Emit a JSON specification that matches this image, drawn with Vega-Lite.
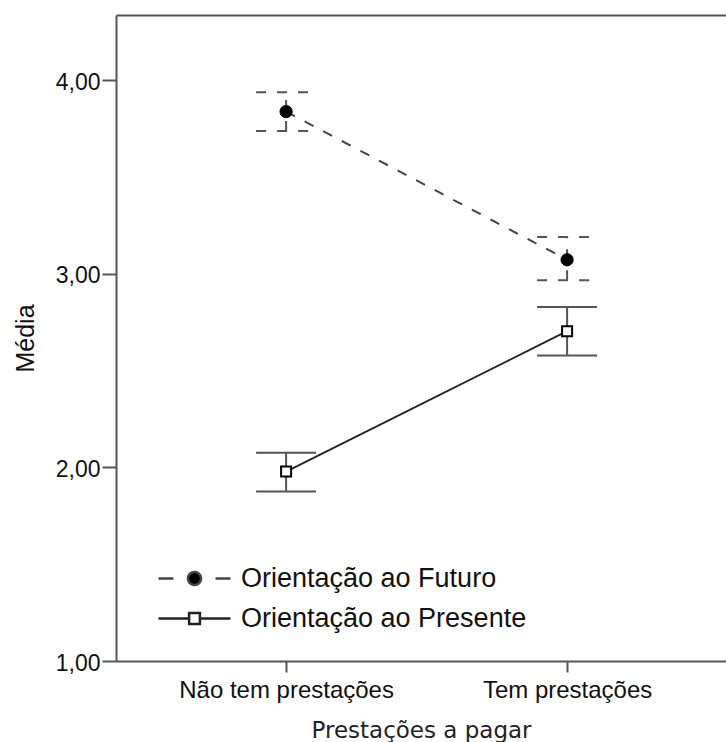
{
  "$schema": "https://vega.github.io/schema/vega-lite/v6.json",
  "width": 610,
  "height": 646,
  "autosize": {"type": "none"},
  "padding": {"left": 116, "top": 15, "right": 0, "bottom": 81},
  "background": "white",
  "data": {
    "values": [
      {"prest": "Não tem prestações", "grupo": "Orientação ao Futuro", "media": 3.837, "lo": 3.737, "hi": 3.937},
      {"prest": "Tem prestações", "grupo": "Orientação ao Futuro", "media": 3.072, "lo": 2.966, "hi": 3.189},
      {"prest": "Não tem prestações", "grupo": "Orientação ao Presente", "media": 1.978, "lo": 1.875, "hi": 2.076},
      {"prest": "Tem prestações", "grupo": "Orientação ao Presente", "media": 2.703, "lo": 2.577, "hi": 2.828}
    ]
  },
  "resolve": {"axis": {"x": "independent"}},
  "layer": [
    {
      "transform": [{"filter": "datum.grupo === 'Orientação ao Futuro'"}],
      "mark": {"type": "rule", "strokeWidth": 2, "color": "#555", "strokeDash": [10, 11]},
      "encoding": {
        "x": {"field": "prest", "type": "nominal", "sort": ["Não tem prestações", "Tem prestações"],
          "scale": {"type": "point", "padding": 0.5854, "align": 0.517},
          "axis": {"orient": "bottom", "title": "Prestações a pagar", "labelAngle": 0, "tickSize": 11, "labelPadding": 6, "labelLimit": 400,
            "labelFont": "Liberation Sans", "labelFontSize": 24, "labelColor": "#111",
            "titleFont": "DejaVu Sans", "titleFontSize": 23, "titleFontWeight": "normal", "titleColor": "#222", "titlePadding": 17}},
        "y": {"field": "lo", "type": "quantitative", "title": "Média",
          "scale": {"domain": [1, 4.336], "nice": false, "zero": false},
          "axis": {"values": [1, 2, 3, 4], "labelExpr": "replace(format(datum.value, '.2f'), '.', ',')", "tickSize": 14, "labelPadding": 2,
            "labelFont": "Liberation Sans", "labelFontSize": 23, "labelColor": "#111", "labelOffset": 2,
            "titleFont": "Liberation Sans", "titleFontSize": 25, "titleFontWeight": "normal", "titleColor": "#111", "titlePadding": 17}},
        "y2": {"field": "hi"}
      }
    },
    {
      "transform": [{"filter": "datum.grupo === 'Orientação ao Presente'"}],
      "mark": {"type": "rule", "strokeWidth": 2, "color": "#555"},
      "encoding": {
        "x": {"field": "prest", "type": "nominal", "sort": ["Não tem prestações", "Tem prestações"],
          "axis": {"orient": "top", "labels": false, "ticks": false, "title": null, "domain": true}},
        "y": {"field": "lo", "type": "quantitative", "title": "Média"},
        "y2": {"field": "hi"}
      }
    },
    {
      "transform": [{"filter": "datum.grupo === 'Orientação ao Futuro'"}],
      "mark": {"type": "rule", "strokeWidth": 2, "color": "#555", "strokeDash": [10, 11], "xOffset": -30, "x2Offset": 30},
      "encoding": {
        "x": {"field": "prest", "type": "nominal", "sort": ["Não tem prestações", "Tem prestações"], "axis": null},
        "x2": {"field": "prest"},
        "y": {"field": "lo", "type": "quantitative", "title": "Média"}
      }
    },
    {
      "transform": [{"filter": "datum.grupo === 'Orientação ao Futuro'"}],
      "mark": {"type": "rule", "strokeWidth": 2, "color": "#555", "strokeDash": [10, 11], "xOffset": -30, "x2Offset": 30},
      "encoding": {
        "x": {"field": "prest", "type": "nominal", "sort": ["Não tem prestações", "Tem prestações"], "axis": null},
        "x2": {"field": "prest"},
        "y": {"field": "hi", "type": "quantitative", "title": "Média"}
      }
    },
    {
      "transform": [{"filter": "datum.grupo === 'Orientação ao Presente'"}],
      "mark": {"type": "rule", "strokeWidth": 2, "color": "#555", "xOffset": -30, "x2Offset": 30},
      "encoding": {
        "x": {"field": "prest", "type": "nominal", "sort": ["Não tem prestações", "Tem prestações"], "axis": null},
        "x2": {"field": "prest"},
        "y": {"field": "lo", "type": "quantitative", "title": "Média"}
      }
    },
    {
      "transform": [{"filter": "datum.grupo === 'Orientação ao Presente'"}],
      "mark": {"type": "rule", "strokeWidth": 2, "color": "#555", "xOffset": -30, "x2Offset": 30},
      "encoding": {
        "x": {"field": "prest", "type": "nominal", "sort": ["Não tem prestações", "Tem prestações"], "axis": null},
        "x2": {"field": "prest"},
        "y": {"field": "hi", "type": "quantitative", "title": "Média"}
      }
    },
    {
      "transform": [{"filter": "datum.grupo === 'Orientação ao Futuro'"}],
      "mark": {"type": "line", "strokeWidth": 2, "strokeDash": [10, 11]},
      "encoding": {
        "x": {"field": "prest", "type": "nominal", "sort": ["Não tem prestações", "Tem prestações"], "axis": null},
        "y": {"field": "media", "type": "quantitative", "title": "Média"},
        "color": {"field": "grupo", "type": "nominal",
          "scale": {"domain": ["Orientação ao Futuro", "Orientação ao Presente"], "range": ["#444", "#222"]},
          "legend": {
            "title": null, "orient": "none", "legendX": 59, "legendY": 544, "padding": 0,
            "symbolSize": 1296, "symbolStrokeWidth": 2, "rowPadding": 7,
            "labelFont": "Liberation Sans", "labelFontSize": 27, "labelColor": "#111", "labelOffset": 27, "labelLimit": 400,
            "encode": {
              "symbols": {
                "update": {
                  "shape": {"signal": "datum.label === 'Orientação ao Futuro' ? 'M-2,0L-1.17,0M1.17,0L2,0M-0.36,0A0.36,0.36,0,1,1,0.36,0A0.36,0.36,0,1,1,-0.36,0Z' : 'M-2,0L-0.3,0M0.3,0L2,0M-0.3,-0.3L0.3,-0.3L0.3,0.3L-0.3,0.3Z'"},
                  "fill": {"signal": "datum.label === 'Orientação ao Futuro' ? '#000' : '#fff'"},
                  "stroke": {"value": "#000"},
                  "strokeDash": {"value": [1, 0]},
                  "strokeWidth": {"value": 2.5},
                  "opacity": {"value": 1}
                }
              }
            }
          }
        }
      }
    },
    {
      "transform": [{"filter": "datum.grupo === 'Orientação ao Presente'"}],
      "mark": {"type": "line", "strokeWidth": 2},
      "encoding": {
        "x": {"field": "prest", "type": "nominal", "sort": ["Não tem prestações", "Tem prestações"], "axis": null},
        "y": {"field": "media", "type": "quantitative", "title": "Média"},
        "color": {"field": "grupo", "type": "nominal"}
      }
    },
    {
      "transform": [{"filter": "datum.grupo === 'Orientação ao Futuro'"}],
      "mark": {"type": "point", "shape": "circle", "filled": true, "fill": "#000", "stroke": "#000", "strokeWidth": 1, "size": 150, "opacity": 1},
      "encoding": {
        "x": {"field": "prest", "type": "nominal", "sort": ["Não tem prestações", "Tem prestações"], "axis": null},
        "y": {"field": "media", "type": "quantitative", "title": "Média"}
      }
    },
    {
      "transform": [{"filter": "datum.grupo === 'Orientação ao Presente'"}],
      "mark": {"type": "point", "shape": "square", "filled": true, "fill": "#fff", "stroke": "#000", "strokeWidth": 2, "size": 100, "opacity": 1},
      "encoding": {
        "x": {"field": "prest", "type": "nominal", "sort": ["Não tem prestações", "Tem prestações"], "axis": null},
        "y": {"field": "media", "type": "quantitative", "title": "Média"}
      }
    }
  ],
  "config": {
    "view": {"stroke": null},
    "axis": {"grid": false, "domainColor": "#555", "domainWidth": 2, "tickColor": "#555", "tickWidth": 2}
  }
}
